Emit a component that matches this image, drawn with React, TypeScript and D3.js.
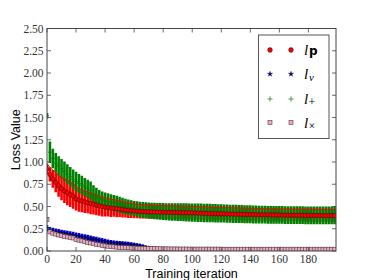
import React from "react";
import * as d3 from "d3";

// iterations sampled every 2 steps
const iterations: number[] = d3.range(0, 200, 2);

const yTicks = [0, 0.25, 0.5, 0.75, 1.0, 1.25, 1.5, 1.75, 2.0, 2.25, 2.5];
const xTicks = [0, 20, 40, 60, 80, 100, 120, 140, 160, 180];

// l_p (red)
const meanP = [
  0.92, 0.86, 0.81, 0.77, 0.73, 0.70, 0.675, 0.655, 0.635, 0.615,
  0.585, 0.572, 0.561, 0.552, 0.543, 0.534, 0.525, 0.516, 0.506, 0.499,
  0.493, 0.488, 0.483, 0.479, 0.475, 0.471, 0.466, 0.461, 0.456, 0.452,
  0.449, 0.447, 0.445, 0.443, 0.442, 0.440, 0.439, 0.438, 0.437, 0.436,
  0.435, 0.434, 0.434, 0.433, 0.432, 0.432, 0.431, 0.430, 0.430, 0.429,
  0.428, 0.427, 0.426, 0.425, 0.424, 0.423, 0.422, 0.421, 0.420, 0.419,
  0.418, 0.417, 0.416, 0.415, 0.414, 0.413, 0.413, 0.412, 0.411, 0.410,
  0.410, 0.409, 0.408, 0.408, 0.407, 0.406, 0.406, 0.405, 0.405, 0.404,
  0.404, 0.403, 0.403, 0.402, 0.402, 0.402, 0.401, 0.401, 0.401, 0.400,
  0.400, 0.400, 0.399, 0.399, 0.399, 0.398, 0.398, 0.398, 0.398, 0.397,
];
const errP = [
  0.06, 0.08, 0.10, 0.11, 0.12, 0.13, 0.135, 0.14, 0.14, 0.14,
  0.13, 0.13, 0.125, 0.125, 0.12, 0.12, 0.115, 0.115, 0.11, 0.11,
  0.105, 0.10, 0.10, 0.095, 0.095, 0.09, 0.09, 0.085, 0.085, 0.082,
  0.08, 0.08, 0.079, 0.078, 0.078, 0.077, 0.077, 0.076, 0.076, 0.075,
  0.075, 0.075, 0.075, 0.075, 0.074, 0.074, 0.074, 0.074, 0.074, 0.073,
  0.073, 0.073, 0.073, 0.073, 0.072, 0.072, 0.072, 0.072, 0.072, 0.072,
  0.071, 0.071, 0.071, 0.071, 0.071, 0.071, 0.071, 0.071, 0.070, 0.070,
  0.070, 0.070, 0.070, 0.070, 0.070, 0.070, 0.070, 0.070, 0.070, 0.070,
  0.070, 0.070, 0.070, 0.070, 0.070, 0.070, 0.070, 0.070, 0.070, 0.070,
  0.070, 0.070, 0.070, 0.070, 0.070, 0.070, 0.070, 0.070, 0.070, 0.070,
];

// l_+ (green)
const meanPlus = [
  1.52, 1.11, 1.04, 0.99, 0.955, 0.925, 0.895, 0.865, 0.835, 0.805,
  0.78, 0.76, 0.74, 0.72, 0.70, 0.68, 0.64, 0.615, 0.59, 0.575,
  0.563, 0.556, 0.548, 0.54, 0.53, 0.52, 0.51, 0.50, 0.492, 0.485,
  0.478, 0.472, 0.467, 0.462, 0.458, 0.455, 0.452, 0.449, 0.447, 0.445,
  0.443, 0.441, 0.440, 0.439, 0.438, 0.437, 0.436, 0.435, 0.434, 0.433,
  0.432, 0.431, 0.430, 0.429, 0.428, 0.427, 0.426, 0.425, 0.424, 0.423,
  0.422, 0.421, 0.420, 0.419, 0.418, 0.417, 0.416, 0.415, 0.414, 0.413,
  0.412, 0.411, 0.410, 0.409, 0.408, 0.408, 0.407, 0.407, 0.406, 0.406,
  0.405, 0.405, 0.404, 0.404, 0.403, 0.403, 0.402, 0.402, 0.402, 0.401,
  0.401, 0.401, 0.400, 0.400, 0.400, 0.400, 0.400, 0.400, 0.400, 0.400,
];
const errPlus = [
  0.03, 0.12, 0.11, 0.11, 0.11, 0.11, 0.11, 0.11, 0.11, 0.11,
  0.11, 0.105, 0.105, 0.10, 0.10, 0.10, 0.098, 0.096, 0.095, 0.094,
  0.093, 0.092, 0.091, 0.09, 0.09, 0.089, 0.088, 0.087, 0.086, 0.085,
  0.085, 0.086, 0.087, 0.088, 0.089, 0.09, 0.091, 0.092, 0.093, 0.094,
  0.095, 0.096, 0.097, 0.098, 0.099, 0.10, 0.10, 0.101, 0.102, 0.102,
  0.103, 0.103, 0.104, 0.104, 0.104, 0.104, 0.104, 0.103, 0.103, 0.103,
  0.103, 0.102, 0.102, 0.102, 0.102, 0.102, 0.101, 0.101, 0.101, 0.101,
  0.101, 0.101, 0.100, 0.100, 0.100, 0.100, 0.100, 0.100, 0.100, 0.100,
  0.100, 0.100, 0.100, 0.100, 0.100, 0.100, 0.100, 0.100, 0.100, 0.100,
  0.100, 0.100, 0.100, 0.100, 0.100, 0.100, 0.100, 0.100, 0.100, 0.100,
];

// l_v (blue)
const meanV = [
  0.255, 0.235, 0.225, 0.218, 0.212, 0.205, 0.198, 0.192, 0.186, 0.18,
  0.172, 0.166, 0.160, 0.154, 0.148, 0.141, 0.134, 0.127, 0.120, 0.113,
  0.106, 0.100, 0.095, 0.091, 0.087, 0.084, 0.081, 0.078, 0.075, 0.072,
  0.068, 0.063, 0.057, 0.050, 0.042, 0.035, 0.029, 0.024, 0.020, 0.017,
  0.015, 0.014, 0.013, 0.013, 0.012, 0.012, 0.011, 0.011, 0.011, 0.010,
  0.010, 0.010, 0.010, 0.010, 0.010, 0.010, 0.010, 0.010, 0.010, 0.010,
  0.009, 0.009, 0.009, 0.009, 0.009, 0.009, 0.009, 0.009, 0.009, 0.009,
  0.009, 0.009, 0.009, 0.009, 0.009, 0.009, 0.009, 0.009, 0.009, 0.009,
  0.008, 0.008, 0.008, 0.008, 0.008, 0.008, 0.008, 0.008, 0.008, 0.008,
  0.008, 0.008, 0.008, 0.008, 0.008, 0.008, 0.008, 0.008, 0.008, 0.008,
];
const errV = [
  0.035, 0.035, 0.035, 0.035, 0.035, 0.035, 0.035, 0.035, 0.035, 0.035,
  0.035, 0.035, 0.035, 0.035, 0.034, 0.034, 0.033, 0.033, 0.032, 0.032,
  0.031, 0.03, 0.029, 0.028, 0.028, 0.028, 0.028, 0.028, 0.028, 0.027,
  0.026, 0.025, 0.024, 0.022, 0.019, 0.016, 0.013, 0.011, 0.01, 0.009,
  0.008, 0.008, 0.007, 0.007, 0.007, 0.006, 0.006, 0.006, 0.006, 0.006,
  0.005, 0.005, 0.005, 0.005, 0.005, 0.005, 0.005, 0.005, 0.005, 0.005,
  0.005, 0.005, 0.005, 0.005, 0.005, 0.005, 0.005, 0.005, 0.005, 0.005,
  0.005, 0.005, 0.005, 0.005, 0.005, 0.005, 0.005, 0.005, 0.005, 0.005,
  0.005, 0.005, 0.005, 0.005, 0.005, 0.005, 0.005, 0.005, 0.005, 0.005,
  0.005, 0.005, 0.005, 0.005, 0.005, 0.005, 0.005, 0.005, 0.005, 0.005,
];

// l_x (pink)
const meanX = [
  0.355, 0.215, 0.20, 0.19, 0.18, 0.172, 0.165, 0.158, 0.152, 0.146,
  0.13, 0.122, 0.114, 0.106, 0.098, 0.09, 0.083, 0.076, 0.07, 0.064,
  0.058, 0.054, 0.05, 0.047, 0.044, 0.042, 0.04, 0.038, 0.036, 0.034,
  0.033, 0.032, 0.031, 0.03, 0.029, 0.028, 0.027, 0.026, 0.025, 0.025,
  0.024, 0.024, 0.023, 0.023, 0.023, 0.022, 0.022, 0.022, 0.022, 0.021,
  0.021, 0.021, 0.021, 0.021, 0.021, 0.021, 0.021, 0.021, 0.021, 0.021,
  0.020, 0.020, 0.020, 0.020, 0.020, 0.020, 0.020, 0.020, 0.020, 0.020,
  0.020, 0.020, 0.020, 0.020, 0.020, 0.020, 0.020, 0.020, 0.020, 0.020,
  0.020, 0.020, 0.020, 0.020, 0.020, 0.020, 0.020, 0.020, 0.020, 0.020,
  0.020, 0.020, 0.020, 0.020, 0.020, 0.020, 0.020, 0.020, 0.020, 0.020,
];
const errX = [
  0.015, 0.012, 0.012, 0.012, 0.012, 0.012, 0.012, 0.012, 0.012, 0.012,
  0.011, 0.011, 0.011, 0.011, 0.010, 0.010, 0.010, 0.010, 0.009, 0.009,
  0.008, 0.008, 0.008, 0.007, 0.007, 0.007, 0.006, 0.006, 0.006, 0.006,
  0.005, 0.005, 0.005, 0.005, 0.005, 0.005, 0.005, 0.005, 0.005, 0.005,
  0.004, 0.004, 0.004, 0.004, 0.004, 0.004, 0.004, 0.004, 0.004, 0.004,
  0.004, 0.004, 0.004, 0.004, 0.004, 0.004, 0.004, 0.004, 0.004, 0.004,
  0.004, 0.004, 0.004, 0.004, 0.004, 0.004, 0.004, 0.004, 0.004, 0.004,
  0.004, 0.004, 0.004, 0.004, 0.004, 0.004, 0.004, 0.004, 0.004, 0.004,
  0.004, 0.004, 0.004, 0.004, 0.004, 0.004, 0.004, 0.004, 0.004, 0.004,
  0.004, 0.004, 0.004, 0.004, 0.004, 0.004, 0.004, 0.004, 0.004, 0.004,
];

const W = 374;
const H = 280;
const PL = 47, PR = 336, PT = 28.5, PB = 251;

const RED = "#ff0000";
const GREEN = "#008000";
const BLUE = "#0000ff";
const NAVY = "#000080";
const PINK_FILL = "#e3b0c0";
const PINK_EDGE = "#5a3440";
const FRAME = "#444";

const starPlot = d3.symbol(d3.symbolStar, 6)() as string;
const starLegend = d3.symbol(d3.symbolStar, 9)() as string;
const plusPath = "M-2,0H2M0,-2V2";
const plusLegend = "M-2.6,0H2.6M0,-2.6V2.6";

export default function App() {
  const x = d3.scaleLinear().domain([0, 199]).range([PL, PR]);
  const y = d3.scaleLinear().domain([0, 2.5]).range([PB, PT]);

  const bars = (mean: number[], err: number[], color: string, w: number, key: string) =>
    iterations.map((it, i) => (
      <line
        key={key + i}
        x1={x(it)}
        x2={x(it)}
        y1={y(Math.max(0, mean[i] - err[i]))}
        y2={y(mean[i] + err[i])}
        stroke={color}
        strokeWidth={w}
      />
    ));

  const upperP = d3
    .line<number>()
    .x((it) => x(it))
    .y((_, i) => y(meanP[i] + errP[i]));

  const tickFont = "'Liberation Serif', 'DejaVu Serif', serif";
  const sans = "'Liberation Sans', Arial, sans-serif";

  const legendRows = [
    { y: 50, kind: "p" },
    { y: 74, kind: "v" },
    { y: 99, kind: "plus" },
    { y: 122.5, kind: "x" },
  ];

  const marker = (kind: string, cx: number, cy: number, k: string, legend = false) => {
    if (kind === "p")
      return <circle key={k} cx={cx} cy={cy} r={legend ? 2.4 : 2.2} fill={RED} stroke="#000" strokeWidth={0.4} />;
    if (kind === "v")
      return <path key={k} d={legend ? starLegend : starPlot} transform={`translate(${cx},${cy})`} fill={NAVY} stroke="#000" strokeWidth={0.3} />;
    if (kind === "plus")
      return <path key={k} d={legend ? plusLegend : plusPath} transform={`translate(${cx},${cy})`} stroke={legend ? "#1f8f1f" : GREEN} strokeWidth={0.8} fill="none" />;
    return (
      <rect key={k} x={cx - 2} y={cy - 2} width={4} height={4}
        fill={PINK_FILL} stroke={PINK_EDGE} strokeWidth={0.6} />
    );
  };

  return (
    <svg width={W} height={H} style={{ position: "absolute", left: 0, top: 0, background: "#fff" }}>
      <rect x={0} y={0} width={W} height={H} fill="#fff" />
      <defs>
        <clipPath id="plotclip">
          <rect x={PL} y={PT} width={PR - PL} height={PB - PT} />
        </clipPath>
      </defs>
      <g clipPath="url(#plotclip)">
        {bars(meanP, errP, RED, 2.6, "bp")}
        {bars(meanPlus, errPlus, GREEN, 2.6, "bg")}
        <path d={upperP(iterations) as string} fill="none" stroke={RED} strokeWidth={1} />
        {bars(meanV, errV, BLUE, 2.6, "bv")}
        {bars(meanX, errX, "#f0a0b8", 2.6, "bx")}
        {iterations.map((it, i) => marker("plus", x(it), y(meanPlus[i]), "mg" + i))}
        {iterations.map((it, i) => marker("p", x(it), y(meanP[i]), "mp" + i))}
        {iterations.map((it, i) => marker("v", x(it), y(meanV[i]), "mv" + i))}
        {iterations.map((it, i) => marker("x", x(it), y(meanX[i]), "mx" + i))}
      </g>

      {/* frame */}
      <rect x={PL} y={PT} width={PR - PL} height={PB - PT} fill="none" stroke={FRAME} strokeWidth={1} />

      {/* y ticks */}
      {yTicks.map((t) => (
        <g key={"yt" + t}>
          <line x1={PL} x2={PL + 4} y1={y(t)} y2={y(t)} stroke={FRAME} strokeWidth={0.8} />
          <line x1={PR} x2={PR - 4} y1={y(t)} y2={y(t)} stroke={FRAME} strokeWidth={0.8} />
          <text x={PL - 3.5} y={y(t) + 4} textAnchor="end" fontFamily={tickFont} fontSize={11.5} fill="#333">
            {t.toFixed(2)}
          </text>
        </g>
      ))}
      {/* x ticks */}
      {xTicks.map((t) => (
        <g key={"xt" + t}>
          <line x1={x(t)} x2={x(t)} y1={PB} y2={PB - 4} stroke={FRAME} strokeWidth={0.8} />
          <line x1={x(t)} x2={x(t)} y1={PT} y2={PT + 4} stroke={FRAME} strokeWidth={0.8} />
          <text x={x(t)} y={PB + 11.5} textAnchor="middle" fontFamily={tickFont} fontSize={11.5} fill="#333">
            {t}
          </text>
        </g>
      ))}

      <text x={(PL + PR) / 2} y={277.5} textAnchor="middle" fontFamily={sans} fontSize={12.5} fill="#000">
        Training iteration
      </text>
      <text
        transform={`translate(20,${(PT + PB) / 2}) rotate(-90)`}
        textAnchor="middle"
        fontFamily={sans}
        fontSize={12.5}
        fill="#000"
      >
        Loss Value
      </text>

      {/* legend */}
      <rect x={258.5} y={35} width={70.5} height={103.5} fill="#fff" stroke="#555" strokeWidth={1} />
      {legendRows.map((r) => (
        <g key={"lg" + r.kind}>
          {marker(r.kind, 270, r.y, "la" + r.kind, true)}
          {marker(r.kind, 291, r.y, "lb" + r.kind, true)}
          <text x={304} y={r.y + 5} fontFamily={tickFont} fontStyle="italic" fontSize={15} fill="#000">
            l
          </text>
          {r.kind === "p" && (
            <text x={309} y={r.y + 5} fontFamily="'DejaVu Sans', sans-serif" fontWeight="bold" fontSize={12} fill="#000">
              p
            </text>
          )}
          {r.kind === "v" && (
            <text x={309} y={r.y + 7} fontFamily={tickFont} fontStyle="italic" fontSize={11} fill="#000">
              v
            </text>
          )}
          {r.kind === "plus" && (
            <text x={308.5} y={r.y + 7} fontFamily={tickFont} fontSize={12} fill="#000">
              +
            </text>
          )}
          {r.kind === "x" && (
            <text x={308.5} y={r.y + 7} fontFamily={tickFont} fontSize={12} fill="#000">
              ×
            </text>
          )}
        </g>
      ))}
    </svg>
  );
}
